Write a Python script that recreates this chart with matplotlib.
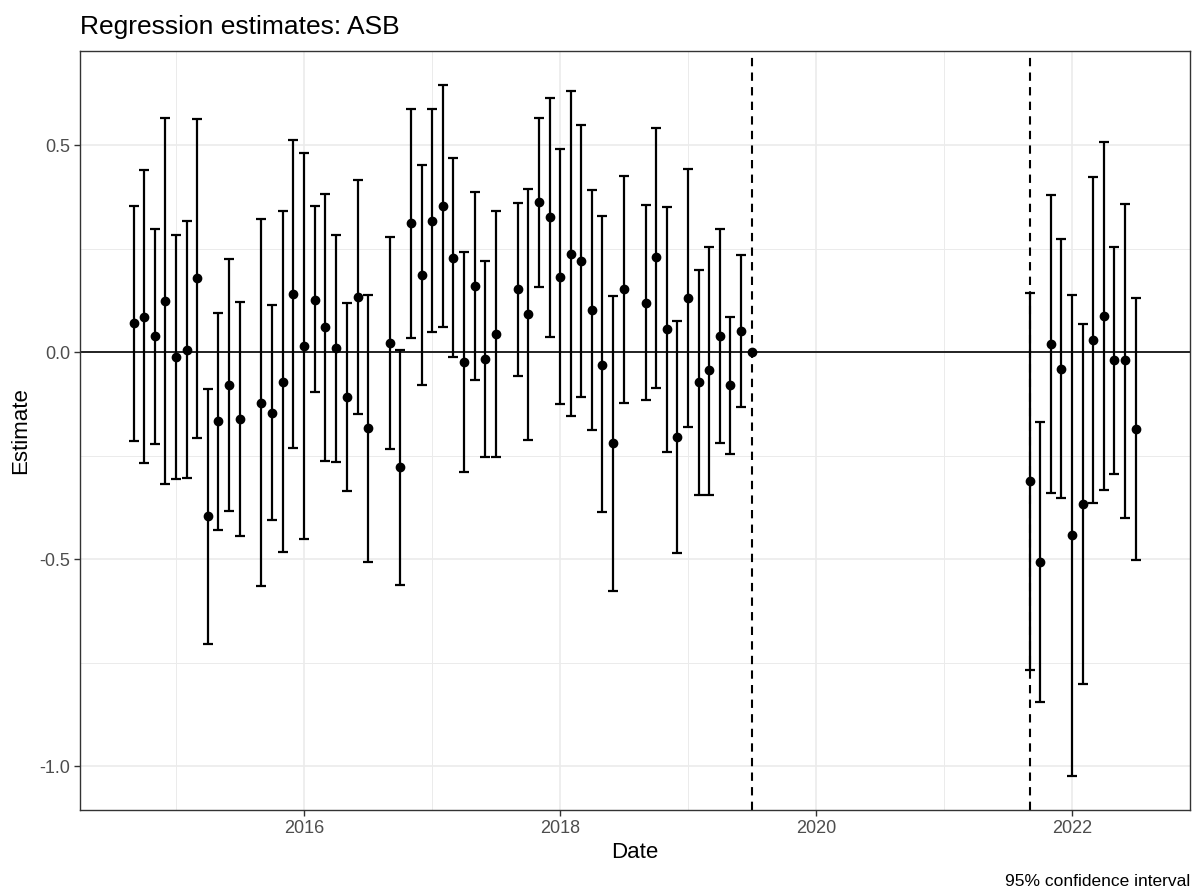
import matplotlib
matplotlib.use('Agg')
import matplotlib.pyplot as plt
import matplotlib.dates as mdates
import numpy as np
import pandas as pd

plt.rcParams['font.family'] = ['Liberation Sans', 'DejaVu Sans']
plt.rcParams['axes.unicode_minus'] = False

# monthly estimates, August is absent every year
months_a = [m for m in pd.date_range('2014-09-01', '2019-07-01', freq='MS') if m.month != 8]
months_b = list(pd.date_range('2021-09-01', '2022-07-01', freq='MS'))

est_a = [0.071, 0.086, 0.038, 0.123, -0.012, 0.005, 0.178, -0.396, -0.167, -0.078, -0.162,
         -0.122, -0.146, -0.071, 0.140, 0.015, 0.127, 0.061, 0.010, -0.108, 0.134, -0.184,
         0.023, -0.278, 0.311, 0.187, 0.317, 0.352, 0.228, -0.023, 0.160, -0.016, 0.044,
         0.152, 0.091, 0.362, 0.326, 0.182, 0.238, 0.219, 0.103, -0.030, -0.219, 0.152,
         0.119, 0.229, 0.055, -0.204, 0.130, -0.073, -0.044, 0.038, -0.079, 0.050, 0.0]
hi_a = [0.354, 0.439, 0.298, 0.565, 0.282, 0.316, 0.563, -0.088, 0.095, 0.226, 0.120,
        0.321, 0.115, 0.342, 0.511, 0.482, 0.352, 0.383, 0.284, 0.119, 0.415, 0.137,
        0.278, 0.005, 0.588, 0.451, 0.586, 0.644, 0.469, 0.241, 0.387, 0.221, 0.340,
        0.360, 0.395, 0.566, 0.614, 0.490, 0.631, 0.549, 0.391, 0.329, 0.135, 0.425,
        0.356, 0.542, 0.350, 0.075, 0.442, 0.198, 0.254, 0.298, 0.086, 0.235, np.nan]
lo_a = [-0.215, -0.268, -0.221, -0.318, -0.307, -0.304, -0.207, -0.705, -0.430, -0.383, -0.443,
        -0.564, -0.406, -0.483, -0.232, -0.451, -0.096, -0.263, -0.265, -0.334, -0.149, -0.506,
        -0.234, -0.561, 0.035, -0.078, 0.049, 0.060, -0.012, -0.288, -0.068, -0.254, -0.252,
        -0.057, -0.213, 0.157, 0.037, -0.125, -0.154, -0.109, -0.187, -0.386, -0.577, -0.123,
        -0.116, -0.086, -0.240, -0.484, -0.181, -0.344, -0.344, -0.219, -0.245, -0.133, np.nan]

est_b = [-0.311, -0.507, 0.019, -0.040, -0.442, -0.367, 0.029, 0.087, -0.019, -0.020, -0.185]
hi_b = [0.143, -0.169, 0.379, 0.274, 0.139, 0.068, 0.423, 0.507, 0.255, 0.358, 0.132]
lo_b = [-0.766, -0.844, -0.339, -0.353, -1.022, -0.801, -0.365, -0.332, -0.294, -0.400, -0.502]

breaks = [pd.Timestamp('2019-07-01'), pd.Timestamp('2021-09-01')]

dates = months_a + months_b
est = np.array(est_a + est_b)
hi = np.array(hi_a + hi_b)
lo = np.array(lo_a + lo_b)

fig = plt.figure(figsize=(11.96, 8.93), dpi=100)
ax = fig.add_axes([80 / 1196, 1 - 810 / 893, 1110 / 1196, 759 / 893])

ax.axhline(0, color='black', lw=1.2, zorder=2)
for b in breaks:
    ax.axvline(b, color='black', lw=1.5, ls=(0, (4, 3)), zorder=2)

ax.errorbar(dates, est, yerr=[est - lo, hi - est], fmt='none', ecolor='black',
            elinewidth=1.6, capsize=3.5, capthick=1.6, zorder=3)
ax.plot(dates, est, 'o', color='black', ms=6, zorder=4)

ax.set_xlim(pd.Timestamp('2014-04-01'), pd.Timestamp('2022-12-03'))
ax.set_ylim(-1.105, 0.727)

ax.xaxis.set_major_locator(mdates.YearLocator(2))
ax.xaxis.set_major_formatter(mdates.DateFormatter('%Y'))
minor_years = [mdates.date2num(pd.Timestamp(f'{y}-01-01')) for y in (2015, 2017, 2019, 2021)]
ax.xaxis.set_minor_locator(matplotlib.ticker.FixedLocator(minor_years))
ax.set_yticks([-1.0, -0.5, 0.0, 0.5])
ax.set_yticklabels(['-1.0', '-0.5', '0.0', '0.5'])
ax.yaxis.set_minor_locator(matplotlib.ticker.FixedLocator([-0.75, -0.25, 0.25]))

ax.grid(which='major', color='#EBEBEB', lw=1.2)
ax.grid(which='minor', color='#EBEBEB', lw=0.7)
ax.set_axisbelow(True)
ax.tick_params(which='major', length=4, width=1, color='#333333', labelsize=13,
               labelcolor='#4D4D4D', pad=3)
ax.tick_params(which='minor', length=0)
for s in ax.spines.values():
    s.set_color('#333333')
    s.set_linewidth(1)

ax.set_xlabel('Date', fontsize=16, labelpad=4)
ax.set_ylabel('Estimate', fontsize=16, labelpad=6)

fig.text(80 / 1196, 1 - 34 / 893, 'Regression estimates: ASB', fontsize=19,
         ha='left', va='baseline')
fig.text(1190 / 1196, 1 - 886 / 893, '95% confidence interval', fontsize=12.5,
         ha='right', va='baseline')

fig.savefig('out.png', dpi=100)
